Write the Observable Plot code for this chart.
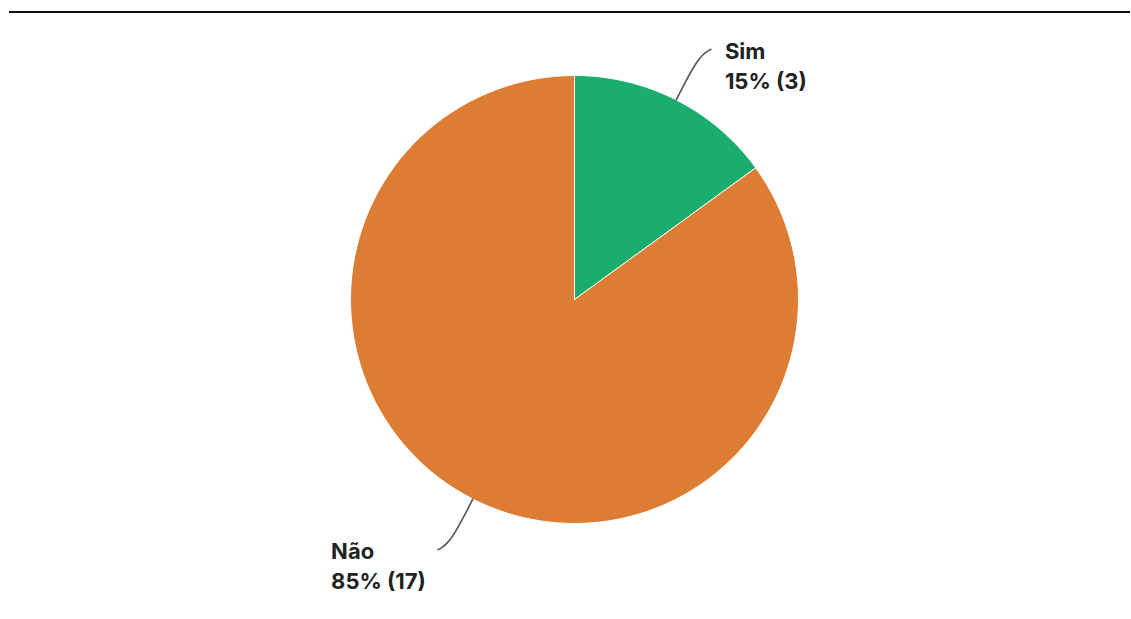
<!DOCTYPE html>
<html>
<head>
<meta charset="utf-8">
<script src="https://cdn.jsdelivr.net/npm/d3@7"></script>
<script src="https://cdn.jsdelivr.net/npm/@observablehq/plot@0.6"></script>
<style>
  html, body { margin: 0; padding: 0; background: #fff; }
  #wrap { position: relative; width: 1131px; height: 619px; }
  #rule { position: absolute; left: 9px; top: 11px; width: 1121px; height: 2px; background: #111; }
  svg { font-family: Inter, Roboto, "Noto Sans", sans-serif; }
</style>
</head>
<body>
<div id="wrap"><div id="rule"></div><div id="chart"></div></div>
<script>
const categories = ["Sim", "Não"];
const counts = [3, 17];
const percents = ["15%", "85%"];
const colors = ["#1aad6d", "#dd7d33"];

const pie = d3.pie().sort(null).value(d => d)(counts);

// slice polygons in unit-circle data space (angle 0 at 12 o'clock, clockwise)
const slices = [];
pie.forEach((p, i) => {
  const n = 120;
  slices.push({cat: categories[i], x: 0, y: 0, k: 0});
  for (let j = 0; j <= n; j++) {
    const a = p.startAngle + (p.endAngle - p.startAngle) * j / n;
    slices.push({cat: categories[i], x: Math.sin(a), y: Math.cos(a), k: j + 1});
  }
  slices.push({cat: categories[i], x: 0, y: 0, k: n + 2});
});

// leader lines and labels
const leaders = [];
const labels = [];
pie.forEach((p, i) => {
  const a = (p.startAngle + p.endAngle) / 2;
  const s = Math.sin(a) >= 0 ? 1 : -1;
  const e = 1.22;
  const ex = Math.sin(a) * e, ey = Math.cos(a) * e;
  const endX = ex + s * 0.055, endY = ey + s * 0.03;
  leaders.push({cat: categories[i], x: Math.sin(a) * 1.0, y: Math.cos(a) * 1.0, k: 0});
  leaders.push({cat: categories[i], x: ex, y: ey, k: 1});
  leaders.push({cat: categories[i], x: endX, y: endY, k: 2});
  labels.push({cat: categories[i], x: endX, y: endY, side: s,
    text: `${categories[i]}\n${percents[i]} (${counts[i]})`});
});

const chart = Plot.plot({
  width: 1131,
  height: 619,
  marginLeft: 350,
  marginRight: 333,
  marginTop: 75,
  marginBottom: 96,
  x: {domain: [-1, 1], axis: null},
  y: {domain: [-1, 1], axis: null},
  color: {domain: categories, range: colors},
  marks: [
    Plot.line(slices, {x: "x", y: "y", z: "cat", fill: "cat", stroke: "#fff", strokeWidth: 1, sort: "k", curve: "linear"}),
    Plot.line(leaders, {x: "x", y: "y", z: "cat", stroke: "#555", strokeWidth: 1.6, curve: "basis"}),
    Plot.text(labels.filter(d => d.side > 0), {x: "x", y: "y", text: "text", textAnchor: "start", lineAnchor: "top",
      dx: 14, dy: -12, fontSize: 22, fontWeight: "bold", fill: "#222", lineHeight: 1.37}),
    Plot.text(labels.filter(d => d.side < 0), {x: "x", y: "y", text: "text", textAnchor: "start", lineAnchor: "top",
      dx: -107, dy: -12, fontSize: 22, fontWeight: "bold", fill: "#222", lineHeight: 1.37})
  ]
});
document.getElementById("chart").appendChild(chart);
</script>
</body>
</html>
